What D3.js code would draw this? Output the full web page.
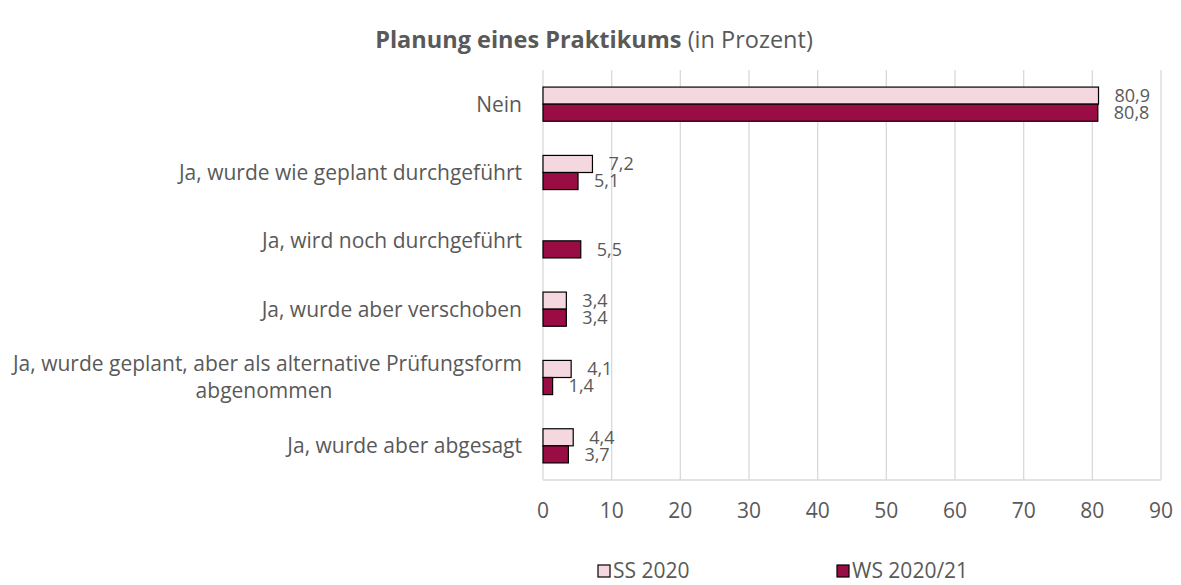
<!DOCTYPE html>
<html>
<head>
<meta charset="utf-8">
<script src="https://cdn.jsdelivr.net/npm/d3@7"></script>
<style>
  body { margin: 0; background: #fff; }
  text { font-family: "Open Sans", sans-serif; fill: #595959; }
</style>
</head>
<body>
<div id="chart"></div>
<script>
const width = 1181;
const height = 585;

const categories = [
  'Nein',
  'Ja, wurde wie geplant durchgeführt',
  'Ja, wird noch durchgeführt',
  'Ja, wurde aber verschoben',
  'Ja, wurde geplant, aber als alternative Prüfungsform|abgenommen',
  'Ja, wurde aber abgesagt'
];
const seriesNames = ['SS 2020', 'WS 2020/21'];
const ss2020 = [80.9, 7.2, null, 3.4, 4.1, 4.4];
const ws2021 = [80.8, 5.1, 5.5, 3.4, 1.4, 3.7];
const xTicks = [0, 10, 20, 30, 40, 50, 60, 70, 80, 90];

const colors = ['#f5d8df', '#9a0d44'];

const svg = d3.select('#chart').append('svg')
  .attr('width', width)
  .attr('height', height);

// plot area
const plotLeft = 543, plotRight = 1161, plotTop = 70, plotBottom = 480;

const x = d3.scaleLinear().domain([0, 90]).range([plotLeft, plotRight]);
const y = d3.scaleBand().domain(categories).range([plotTop, plotBottom]).paddingInner(0.5).paddingOuter(0.25);
const sub = d3.scaleBand().domain(seriesNames).range([0, y.bandwidth()]);

// title
const title = svg.append('text')
  .attr('x', 594).attr('y', 48)
  .attr('text-anchor', 'middle')
  .style('font-size', '23.5px');
title.append('tspan').attr('font-weight', 'bold').text('Planung eines Praktikums');
title.append('tspan').text(' (in Prozent)');

// gridlines
svg.append('g').selectAll('line').data(xTicks).join('line')
  .attr('x1', d => x(d)).attr('x2', d => x(d))
  .attr('y1', plotTop).attr('y2', plotBottom)
  .attr('stroke', '#d9d9d9').attr('stroke-width', 1.3);

svg.append('line')
  .attr('x1', plotLeft).attr('x2', plotRight)
  .attr('y1', plotBottom).attr('y2', plotBottom)
  .attr('stroke', '#d9d9d9').attr('stroke-width', 1.3);

// x tick labels
svg.append('g').selectAll('text').data(xTicks).join('text')
  .attr('x', d => x(d)).attr('y', 518)
  .attr('text-anchor', 'middle')
  .style('font-size', '21px')
  .text(d => d);

// category labels
svg.append('g').selectAll('text').data(categories).join('text')
  .attr('text-anchor', 'end')
  .style('font-size', '21px')
  .each(function (d) {
    const lines = d.split('|');
    const t = d3.select(this);
    const cy = y(d) + y.bandwidth() / 2;
    const y0 = cy - (lines.length - 1) * 13.5;
    lines.forEach((ln, i) => {
      t.append('tspan')
        .attr('x', lines.length > 1 && i > 0 ? 264 : 522)
        .attr('text-anchor', lines.length > 1 && i > 0 ? 'middle' : 'end')
        .attr('y', y0 + i * 27)
        .attr('dy', '0.35em')
        .text(ln);
    });
  });

// bars
const series = [ss2020, ws2021];
series.forEach((vals, si) => {
  const data = categories.map((c, i) => ({ c, v: vals[i] })).filter(d => d.v != null);
  const g = svg.append('g');
  g.selectAll('rect').data(data).join('rect')
    .attr('x', x(0))
    .attr('y', d => y(d.c) + sub(seriesNames[si]))
    .attr('width', d => x(d.v) - x(0))
    .attr('height', sub.bandwidth())
    .attr('fill', colors[si])
    .attr('stroke', '#000')
    .attr('stroke-width', 1.2);
  g.selectAll('text').data(data).join('text')
    .attr('x', d => x(d.v) + 16)
    .attr('y', d => y(d.c) + sub(seriesNames[si]) + sub.bandwidth() / 2)
    .attr('dy', '0.35em')
    .style('font-size', '18px')
    .text(d => d3.format('.1f')(d.v).replace('.', ','));
});

// legend
const legendX = [598, 837];
const lg = svg.append('g').selectAll('g').data(seriesNames).join('g')
  .attr('transform', (d, i) => `translate(${legendX[i]}, 565)`);
lg.append('rect')
  .attr('width', 12).attr('height', 12)
  .attr('fill', (d, i) => colors[i])
  .attr('stroke', '#000').attr('stroke-width', 1.2);
lg.append('text')
  .attr('x', 15).attr('y', 6).attr('dy', '0.35em')
  .style('font-size', '21px')
  .text(d => d);
</script>
</body>
</html>
